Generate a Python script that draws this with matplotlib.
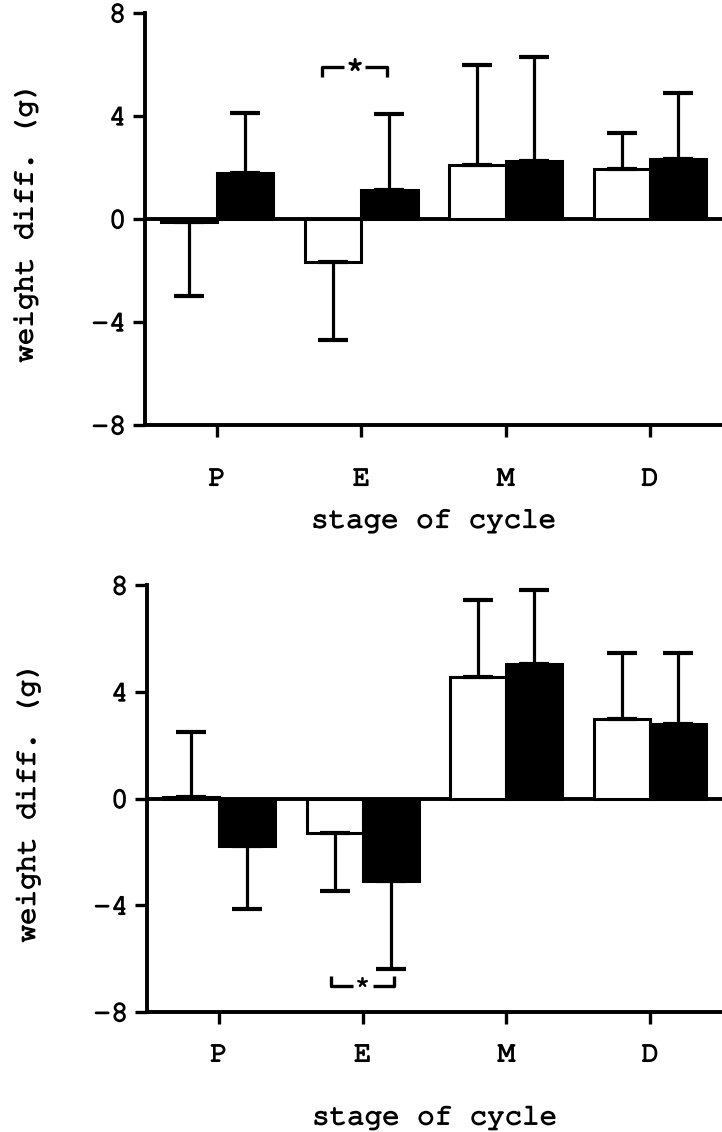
import matplotlib
matplotlib.use("Agg")
import matplotlib.pyplot as plt
import matplotlib.patheffects as pe
from matplotlib import font_manager

# pick a courier-like font if there is one
installed = {f.name for f in font_manager.fontManager.ttflist}
mono = "DejaVu Sans Mono"
for name in ["Nimbus Mono PS", "Courier New", "Courier", "FreeMono", "Liberation Mono"]:
    if name in installed:
        mono = name
        break
plt.rcParams['font.family'] = [mono, 'DejaVu Sans']
plt.rcParams['axes.unicode_minus'] = False

stages = ["P", "E", "M", "D"]

# upper panel
top_white = [-0.1, -1.66, 2.10, 1.93]
top_white_err = [2.90, 3.04, 3.87, 1.40]
top_black = [1.80, 1.13, 2.23, 2.32]
top_black_err = [2.33, 2.95, 4.07, 2.56]

# lower panel
bot_white = [0.05, -1.27, 4.55, 2.99]
bot_white_err = [2.43, 2.20, 2.89, 2.46]
bot_black = [-1.78, -3.09, 5.04, 2.78]
bot_black_err = [2.37, 3.28, 2.80, 2.67]

yticks = [-8, -4, 0, 4, 8]

FS = 21
BW = 0.39
# thicken the thin courier strokes a bit, like the scan
thick = [pe.withStroke(linewidth=1.1, foreground='black')]


def one_sided(means, errs):
    lower = [e if m < 0 else 0 for m, e in zip(means, errs)]
    upper = [e if m >= 0 else 0 for m, e in zip(means, errs)]
    return [lower, upper]


def draw_panel(ax, white, white_err, black, black_err, xpad, labpad):
    x = list(range(len(stages)))
    xw = [i - BW / 2 for i in x]
    xb = [i + BW / 2 for i in x]
    ax.axhline(0, color='black', lw=2.8, zorder=1)
    ax.bar(xw, white, BW, color='white', edgecolor='black', linewidth=2.2, zorder=2)
    ax.bar(xb, black, BW, color='black', edgecolor='black', linewidth=2.2, zorder=2)
    ax.errorbar(xw, white, yerr=one_sided(white, white_err), fmt='none', ecolor='black',
                elinewidth=2.3, capsize=11, capthick=3, zorder=3)
    ax.errorbar(xb, black, yerr=one_sided(black, black_err), fmt='none', ecolor='black',
                elinewidth=2.3, capsize=11, capthick=3, zorder=3)
    ax.set_ylim(-8, 8)
    ax.set_xlim(-0.5, 3.5)
    ax.set_yticks(yticks)
    ax.set_xticks(x)
    ax.set_xticklabels(stages)
    for s in ['top', 'right']:
        ax.spines[s].set_visible(False)
    for s in ['left', 'bottom']:
        ax.spines[s].set_linewidth(2.8)
    ax.tick_params(axis='both', direction='out', length=8.5, width=2.4, labelsize=FS)
    ax.tick_params(axis='y', pad=5)
    ax.tick_params(axis='x', pad=xpad)
    ax.set_xlabel("stage of cycle", fontsize=FS, labelpad=labpad)
    ax.set_ylabel("weight diff. (g)", fontsize=FS)
    ax.yaxis.set_label_coords(-0.185, 0.49)
    for t in ax.get_xticklabels() + ax.get_yticklabels() + [ax.xaxis.label, ax.yaxis.label]:
        t.set_path_effects(thick)


def bracket(ax, x0, x1, y_bar, y_end, star_y, star_size):
    xm = (x0 + x1) / 2
    gap = (x1 - x0) * 0.16
    ax.plot([x0, x0, xm - gap], [y_end, y_bar, y_bar], color='black', lw=2.4, solid_capstyle='butt')
    ax.plot([xm + gap, x1, x1], [y_bar, y_bar, y_end], color='black', lw=2.4, solid_capstyle='butt')
    ax.text(xm, star_y, "*", ha='center', va='center', fontsize=star_size, fontweight='bold')


fig = plt.figure(figsize=(7.22, 11.32), dpi=100)
ax1 = fig.add_axes([0.2008, 0.6246, 0.7992, 0.364])
ax2 = fig.add_axes([0.2036, 0.106, 0.7964, 0.377])

draw_panel(ax1, top_white, top_white_err, top_black, top_black_err, 22, 13)
draw_panel(ax2, bot_white, bot_white_err, bot_black, bot_black_err, 14, 28)

bracket(ax1, 0.73, 1.18, 5.9, 5.5, 5.75, 22)
bracket(ax2, 0.78, 1.22, -7.03, -6.65, -7.05, 18)

fig.savefig("out.png", dpi=100)
